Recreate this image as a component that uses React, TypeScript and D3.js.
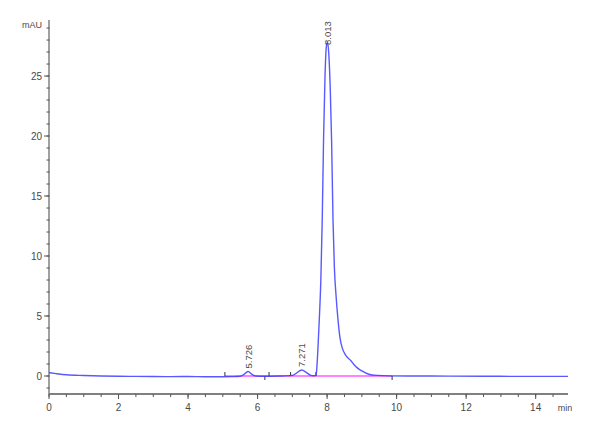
import React from "react";
import * as d3 from "d3";

const signalTime = [
  0, 0.2, 0.5, 1.0, 1.5, 2.0, 2.5, 3.0, 3.5, 4.0, 4.5, 5.0, 5.3, 5.5, 5.6, 5.726, 5.85, 5.95,
  6.2, 6.6, 7.0, 7.1, 7.271, 7.4, 7.5, 7.62, 7.68, 7.7, 7.74, 7.78, 7.82, 7.86, 7.9, 7.94, 7.98,
  8.013, 8.05, 8.09, 8.13, 8.17, 8.21, 8.26, 8.31, 8.37, 8.44, 8.52, 8.6, 8.68, 8.76, 8.86, 9.0,
  9.2, 9.45, 9.8, 10.5, 11.5, 12.5, 13.5, 14.93,
];
const signalValue = [
  0.28, 0.2, 0.1, 0.04, 0.0, -0.02, -0.03, -0.04, -0.05, -0.04, -0.06, -0.06, -0.05, -0.02, 0.12,
  0.38, 0.12, 0.0, -0.02, 0.0, 0.05, 0.2, 0.5, 0.3, 0.1, 0.02, 0.05, 0.5, 2.5, 5.0, 8.0, 13.0,
  20.0, 25.0, 27.5, 27.8, 26.8, 24.0, 19.5, 13.0, 9.0, 6.6, 4.8, 3.2, 2.3, 1.8, 1.5, 1.3, 1.0,
  0.7, 0.42, 0.15, 0.05, 0.01, 0.0, -0.01, -0.02, -0.03, -0.03,
];

const peakTimes = [5.726, 7.271, 8.013];
const peakHeights = [0.38, 0.5, 27.8];
const peakLabels = ["5.726", "7.271", "8.013"];

const baselineStart = [5.06];
const baselineEnd = [9.88];
const eventTimes = [5.06, 6.21, 6.33, 6.95, 7.68, 9.87];
const eventDir = [1, -1, 1, 1, 1, -1];

const yMajorTicks = [0, 5, 10, 15, 20, 25];
const xMajorTicks = [0, 2, 4, 6, 8, 10, 12, 14];

const W = 600;
const H = 440;

export default function App() {
  const x = d3.scaleLinear().domain([0, 14.93]).range([49, 568]);
  const y = d3.scaleLinear().domain([-1.5, 29.67]).range([394, 20]);

  const pts: [number, number][] = signalTime.map((t, i) => [t, signalValue[i]]);
  const line = d3
    .line<[number, number]>()
    .x((d) => x(d[0]))
    .y((d) => y(d[1]))
    .curve(d3.curveMonotoneX);

  const yMinor = d3.range(-1, 30, 1);
  const xMinor = d3.range(0, 14.93, 0.5);
  const axisColor = "#808080";
  const textColor = "#4a4a4a";
  const font = "'Liberation Sans Narrow', 'Liberation Sans', Arial, sans-serif";

  return (
    <svg
      width={W}
      height={H}
      style={{ position: "absolute", left: 0, top: 0, background: "#fff" }}
      fontFamily={font}
    >
      {/* Y axis */}
      <line x1={x(0)} x2={x(0)} y1={y(29.67)} y2={y(-1.5)} stroke={axisColor} strokeWidth={1.5} />
      {yMinor.map((v) => (
        <line key={"ym" + v} x1={x(0) - 2.5} x2={x(0) + 0.5} y1={y(v)} y2={y(v)} stroke="#555" strokeWidth={1} />
      ))}
      {yMajorTicks.map((v) => (
        <g key={"yM" + v}>
          <line x1={x(0) - 5} x2={x(0)} y1={y(v)} y2={y(v)} stroke="#555" strokeWidth={1} />
          <text x={x(0) - 7} y={y(v) + 3.5} fontSize={10} textAnchor="end" fill={textColor}>
            {v}
          </text>
        </g>
      ))}
      <text x={42} y={28} fontSize={9} textAnchor="end" fill={textColor}>
        mAU
      </text>

      {/* X axis */}
      <line x1={x(0)} x2={x(14.93)} y1={y(-1.5)} y2={y(-1.5)} stroke={axisColor} strokeWidth={2} />
      {xMinor.map((v) => (
        <line key={"xm" + v} x1={x(v)} x2={x(v)} y1={y(-1.5)} y2={y(-1.5) + 3} stroke="#555" strokeWidth={1} />
      ))}
      {xMajorTicks.map((v) => (
        <g key={"xM" + v}>
          <line x1={x(v)} x2={x(v)} y1={y(-1.5)} y2={y(-1.5) + 5} stroke="#555" strokeWidth={1} />
          <text x={x(v)} y={411} fontSize={10} textAnchor="middle" fill={textColor}>
            {v}
          </text>
        </g>
      ))}
      <text x={565} y={411} fontSize={9} textAnchor="middle" fill={textColor}>
        min
      </text>

      {/* integration baseline */}
      {baselineStart.map((s, i) => (
        <line
          key={"bl" + i}
          x1={x(s)}
          x2={x(baselineEnd[i])}
          y1={y(0)}
          y2={y(0)}
          stroke="#ff3cff"
          strokeWidth={1.6}
          strokeOpacity={0.85}
        />
      ))}
      {eventTimes.map((t, i) => (
        <line
          key={"ev" + i}
          x1={x(t)}
          x2={x(t)}
          y1={y(0)}
          y2={y(0) - 4 * eventDir[i]}
          stroke="#333"
          strokeWidth={1}
        />
      ))}

      {/* signal */}
      <path d={line(pts) || ""} fill="none" stroke="#3c3cff" strokeWidth={1.4} strokeOpacity={0.85} />

      {/* peak labels */}
      {peakTimes.map((t, i) => {
        const py = y(peakHeights[i]);
        const bottom = Math.max(py - 3, 20 + 25);
        return (
          <text
            key={"pl" + i}
            transform={`translate(${x(t) + 3.5},${bottom}) rotate(-90)`}
            fontSize={9.5}
            fill={textColor}
          >
            {peakLabels[i]}
          </text>
        );
      })}
    </svg>
  );
}
